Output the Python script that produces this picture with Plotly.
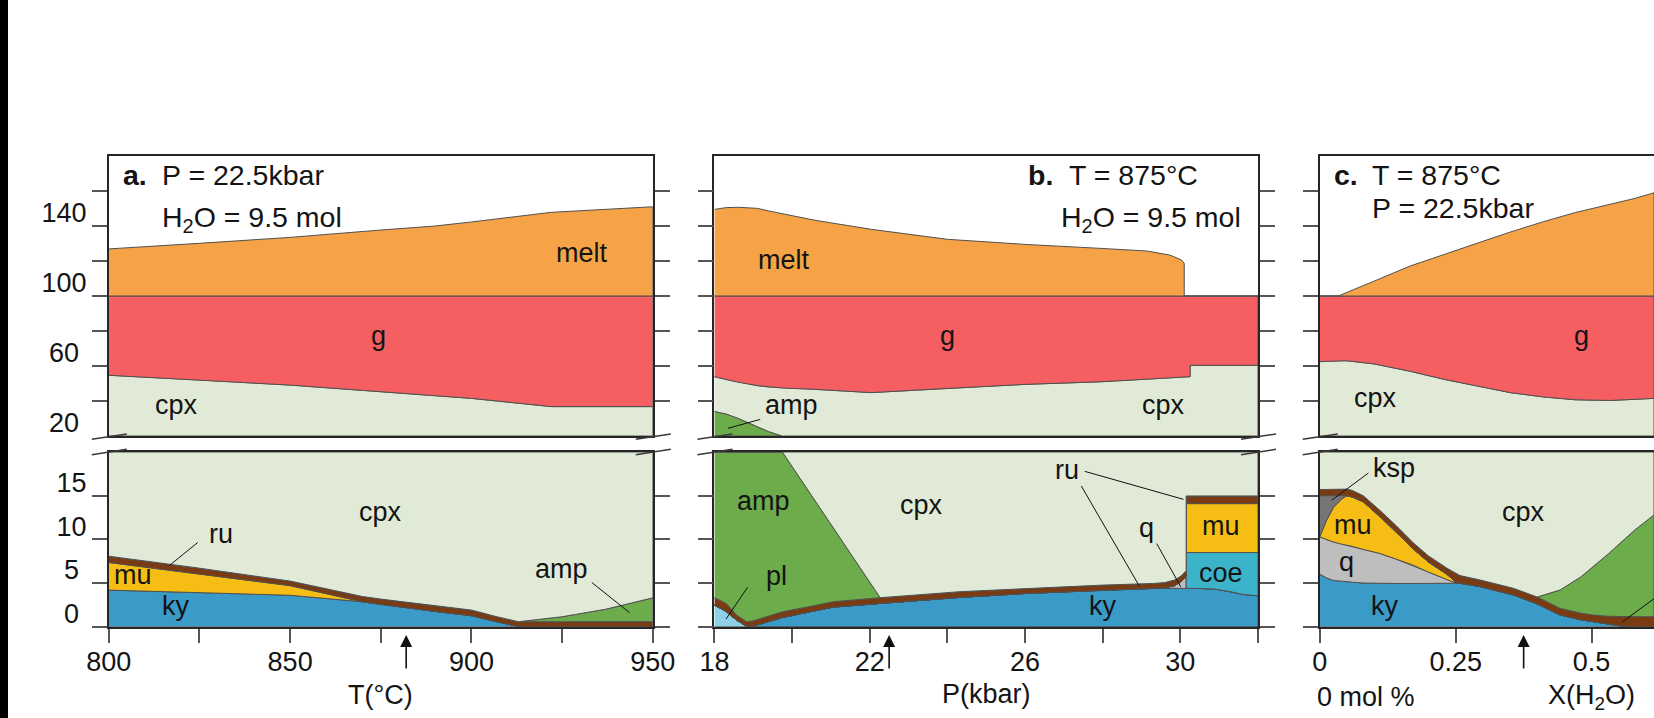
import plotly.graph_objects as go

W, H = 1654, 718
def px(x): return x / W
def py(y): return 1 - y / H

# ---------------------------------------------------------------- data
# a.  P = 22.5 kbar, H2O = 9.5 mol ; x = T(°C)
a_T_up    = [800, 825, 850, 875, 890, 900, 922, 950]
a_cpx_up  = [54.7, 52.0, 49.1, 45.3, 43.0, 41.5, 36.8, 36.8]
a_g_up    = [100, 100, 100, 100, 100, 100, 100, 100]
a_melt_up = [126.9, 130.1, 133.5, 137.7, 140.0, 142.3, 147.8, 151.0]

a_T_lo   = [800, 825, 850, 870, 875, 890, 900, 907, 913, 925, 937, 950]
a_ky_lo  = [4.19, 3.92, 3.6, 2.85, 2.55, 1.75, 1.26, 0.57, 0.0, 0.0, 0.0, 0.0]
a_mu_lo  = [7.35, 6.0, 4.7, 2.85, 2.55, 1.75, 1.26, 0.57, 0.0, 0.0, 0.0, 0.0]
a_ru_lo  = [8.07, 6.7, 5.22, 3.45, 3.16, 2.36, 1.9, 1.14, 0.57, 0.57, 0.57, 0.57]
a_amp_lo = [8.07, 6.7, 5.22, 3.45, 3.16, 2.36, 1.9, 1.14, 0.57, 1.14, 2.0, 3.3]

# b.  T = 875 °C, H2O = 9.5 mol ; x = P(kbar)
b_P_up    = [18, 18.3, 18.6, 19.1, 19.4, 19.75, 20.56, 22.04, 24.0, 26.0, 27.96, 29.14, 29.73, 30.03, 30.1, 30.1, 30.25, 30.25, 32]
b_amp_up  = [34.0, 32.6, 30.2, 25.2, 22.5, 20, 20, 20, 20, 20, 20, 20, 20, 20, 20, 20, 20, 20, 20]
b_cpx_up  = [53.9, 52.3, 50.8, 48.8, 48.0, 47.4, 46.7, 44.8, 47.2, 49.5, 51.0, 52.5, 53.2, 53.6, 53.7, 53.7, 53.9, 60.4, 60.4]
b_g_up    = [100, 100, 100, 100, 100, 100, 100, 100, 100, 100, 100, 100, 100, 100, 100, 100, 100, 100, 100]
b_melt_up = [149.5, 150.5, 150.7, 150.1, 148.6, 146.8, 143.4, 138.1, 132.4, 129.5, 127.2, 125.7, 123.4, 120.6, 118.7, 100, 100, 100, 100]

b_P_lo   = [18, 18.3, 18.57, 18.83, 19.0, 19.75, 20.5, 21.07, 22.27, 24.33, 26.0, 28.0, 29.3, 29.6, 29.85, 30.0, 30.15, 30.15, 30.5, 30.9, 31.3, 31.6, 32]
b_pl_lo  = [2.48, 1.75, 0.76, 0.05, 0, 0, 0, 0, 0, 0, 0, 0, 0, 0, 0, 0, 0, 0, 0, 0, 0, 0, 0]
b_ky_lo  = [2.48, 1.75, 0.76, 0.05, 0.08, 1.05, 1.75, 2.25, 2.67, 3.36, 3.8, 4.19, 4.38, 4.4, 4.4, 4.4, 4.4, 4.4, 4.38, 4.3, 4.0, 3.7, 3.54]
b_q_lo   = [2.48, 1.75, 0.76, 0.05, 0.08, 1.05, 1.75, 2.25, 2.67, 3.36, 3.8, 4.19, 4.38, 4.45, 4.7, 5.1, 5.75, 4.4, 4.38, 4.3, 4.0, 3.7, 3.54]
b_coe_lo = [2.48, 1.75, 0.76, 0.05, 0.08, 1.05, 1.75, 2.25, 2.67, 3.36, 3.8, 4.19, 4.38, 4.45, 4.7, 5.1, 5.75, 8.49, 8.49, 8.49, 8.49, 8.49, 8.49]
b_mu_lo  = [2.48, 1.75, 0.76, 0.05, 0.08, 1.05, 1.75, 2.25, 2.67, 3.36, 3.8, 4.19, 4.38, 4.45, 4.7, 5.1, 5.75, 14.09, 14.09, 14.09, 14.09, 14.09, 14.09]
b_ru_lo  = [3.32, 2.68, 1.34, 0.57, 0.66, 1.7, 2.35, 2.86, 3.32, 4.01, 4.38, 4.76, 4.95, 5.05, 5.35, 5.75, 6.4, 14.97, 14.97, 14.97, 14.97, 14.97, 14.97]
b_amp_lo = [20, 20, 20, 20, 20, 20, 15.04, 11.26, 3.32, 4.01, 4.38, 4.76, 4.95, 5.05, 5.35, 5.75, 6.4, 14.97, 14.97, 14.97, 14.97, 14.97, 14.97]

# c.  T = 875 °C, P = 22.5 kbar ; x = X(H2O)
c_X_up    = [0, 0.034, 0.05, 0.1, 0.166, 0.23, 0.289, 0.35, 0.4117, 0.47, 0.534, 0.58, 0.6147]
c_cpx_up  = [62.5, 63.0, 63.0, 61.2, 57.0, 52.3, 48.4, 44.8, 42.3, 40.7, 40.3, 40.9, 41.5]
c_g_up    = [100, 100, 100, 100, 100, 100, 100, 100, 100, 100, 100, 100, 100]
c_melt_up = [100, 100, 102.0, 108.5, 117.1, 124.0, 130.1, 136.5, 142.5, 147.7, 152.4, 155.8, 159.0]

c_X_lo   = [0, 0.012, 0.025, 0.04, 0.05, 0.06, 0.08, 0.111, 0.14, 0.172, 0.2, 0.234, 0.25, 0.258, 0.295, 0.32, 0.356, 0.4, 0.442, 0.48, 0.504, 0.53, 0.553, 0.58, 0.6147]
c_ky_lo  = [6.02, 5.6, 5.3, 5.18, 5.14, 5.1, 5.0, 4.95, 4.95, 4.95, 4.95, 4.95, 4.97, 4.98, 4.6, 4.2, 3.65, 2.6, 1.35, 0.8, 0.55, 0.3, 0.1, 0, 0]
c_q_lo   = [10.28, 10.0, 9.7, 9.45, 9.33, 9.2, 8.85, 8.38, 7.75, 7.04, 6.25, 5.4, 5.0, 4.98, 4.6, 4.2, 3.65, 2.6, 1.35, 0.8, 0.55, 0.3, 0.1, 0, 0]
c_mu_lo  = [10.28, 12.1, 13.63, 14.6, 15.0, 14.85, 14.3, 12.6, 10.9, 8.9, 7.4, 6.0, 5.1, 4.98, 4.6, 4.2, 3.65, 2.6, 1.35, 0.8, 0.55, 0.3, 0.1, 0, 0]
c_ksp_lo = [15.0, 15.02, 15.04, 15.06, 15.0, 14.85, 14.3, 12.6, 10.9, 8.9, 7.4, 6.0, 5.1, 4.98, 4.6, 4.2, 3.65, 2.6, 1.35, 0.8, 0.55, 0.3, 0.1, 0, 0]
c_ru_lo  = [15.7, 15.72, 15.74, 15.75, 15.75, 15.6, 15.0, 13.3, 11.6, 9.6, 8.1, 6.7, 6.1, 5.85, 5.35, 4.95, 4.4, 3.4, 2.1, 1.55, 1.33, 1.2, 1.14, 1.14, 1.14]
c_amp_lo = [15.7, 15.72, 15.74, 15.75, 15.75, 15.6, 15.0, 13.3, 11.6, 9.6, 8.1, 6.7, 6.1, 5.85, 5.35, 4.95, 4.4, 3.4, 4.2, 5.7, 6.9, 8.3, 9.6, 11.1, 12.8]

# axes / ticks
UP_RANGE = [20, 180]
LO_RANGE = [0, 20]
a_range = [800, 950]
b_range = [18, 32]
c_range = [0, 0.6147]
a_xticks = [800, 825, 850, 875, 900, 925, 950]
a_xtext  = ['800', '', '850', '', '900', '', '950']
b_xticks = [18, 20, 22, 24, 26, 28, 30, 32]
b_xtext  = ['18', '', '22', '', '26', '', '30', '']
c_xticks = [0, 0.25, 0.5]
c_xtext  = ['0', '0.25', '0.5']
up_ticks = [40, 60, 80, 100, 120, 140, 160]
up_labvals = [20, 60, 100, 140]
up_labtext = ['20\u00a0', '60\u00a0', '100', '140']
lo_ticks = [0, 5, 10, 15]
lo_labtext = ['0\u00a0', '5\u00a0', '10', '15']

# ---------------------------------------------------------------- style
C = dict(melt='#F6A247', g='#F65F62', cpx='#E1EAD6', ky='#3B9BC8', mu='#F6BE14',
         ru='#7B3B12', amp='#6DAC4A', q='#BEBEBE', ksp='#767676', coe='#3BB4CA',
         pl='#8ED0E6')
EDGE = '#505050'
FONT = 'Liberation Sans, Arial, Helvetica, sans-serif'
TXT = '#141414'
LC = '#262626'
TC = '#555555'
FS = 27
FS_HEAD = 28.5

fig = go.Figure()

def region(x, lo, hi, color, xa, ya):
    xs = list(x) + list(x)[::-1]
    ys = list(lo) + list(hi)[::-1]
    fig.add_trace(go.Scatter(x=xs, y=ys, xaxis=xa, yaxis=ya, mode='lines',
                             fill='toself', fillcolor=color,
                             line=dict(color=EDGE, width=1),
                             hoverinfo='skip', showlegend=False))

def const(v, n):
    return [v] * n

# panel a
n = len(a_T_up)
region(a_T_up, const(UP_RANGE[0], n), a_cpx_up, C['cpx'], 'x2', 'y2')
region(a_T_up, a_cpx_up, a_g_up, C['g'], 'x2', 'y2')
region(a_T_up, a_g_up, a_melt_up, C['melt'], 'x2', 'y2')
n = len(a_T_lo)
region(a_T_lo, const(LO_RANGE[0], n), a_ky_lo, C['ky'], 'x', 'y')
region(a_T_lo, a_ky_lo, a_mu_lo, C['mu'], 'x', 'y')
region(a_T_lo, a_mu_lo, a_ru_lo, C['ru'], 'x', 'y')
region(a_T_lo, a_ru_lo, a_amp_lo, C['amp'], 'x', 'y')
region(a_T_lo, a_amp_lo, const(LO_RANGE[1], n), C['cpx'], 'x', 'y')

# panel b
n = len(b_P_up)
region(b_P_up, const(UP_RANGE[0], n), b_amp_up, C['amp'], 'x4', 'y4')
region(b_P_up, b_amp_up, b_cpx_up, C['cpx'], 'x4', 'y4')
region(b_P_up, b_cpx_up, b_g_up, C['g'], 'x4', 'y4')
region(b_P_up, b_g_up, b_melt_up, C['melt'], 'x4', 'y4')
n = len(b_P_lo)
region(b_P_lo, const(LO_RANGE[0], n), b_pl_lo, C['pl'], 'x3', 'y3')
region(b_P_lo, b_pl_lo, b_ky_lo, C['ky'], 'x3', 'y3')
region(b_P_lo, b_ky_lo, b_q_lo, C['q'], 'x3', 'y3')
region(b_P_lo, b_q_lo, b_coe_lo, C['coe'], 'x3', 'y3')
region(b_P_lo, b_coe_lo, b_mu_lo, C['mu'], 'x3', 'y3')
region(b_P_lo, b_mu_lo, b_ru_lo, C['ru'], 'x3', 'y3')
region(b_P_lo, b_ru_lo, b_amp_lo, C['amp'], 'x3', 'y3')
region(b_P_lo, b_amp_lo, const(LO_RANGE[1], n), C['cpx'], 'x3', 'y3')

# panel c
n = len(c_X_up)
region(c_X_up, const(UP_RANGE[0], n), c_cpx_up, C['cpx'], 'x6', 'y6')
region(c_X_up, c_cpx_up, c_g_up, C['g'], 'x6', 'y6')
region(c_X_up, c_g_up, c_melt_up, C['melt'], 'x6', 'y6')
n = len(c_X_lo)
region(c_X_lo, const(LO_RANGE[0], n), c_ky_lo, C['ky'], 'x5', 'y5')
region(c_X_lo, c_ky_lo, c_q_lo, C['q'], 'x5', 'y5')
region(c_X_lo, c_q_lo, c_mu_lo, C['mu'], 'x5', 'y5')
region(c_X_lo, c_mu_lo, c_ksp_lo, C['ksp'], 'x5', 'y5')
region(c_X_lo, c_ksp_lo, c_ru_lo, C['ru'], 'x5', 'y5')
region(c_X_lo, c_ru_lo, c_amp_lo, C['amp'], 'x5', 'y5')
region(c_X_lo, c_amp_lo, const(LO_RANGE[1], n), C['cpx'], 'x5', 'y5')

# ---------------------------------------------------------------- axes
AX_A = [px(108.8), px(652.8)]
AX_B = [px(714.4), px(1258.0)]
AX_C = [px(1319.7), 1.0]
DOM_UP = [py(436), py(156)]
DOM_LO = [py(626.7), py(452)]
tickfont = dict(family=FONT, size=FS, color=TXT)

def x_lower(dom, rng, tv, tt, anchor):
    return dict(domain=dom, range=rng, anchor=anchor, showline=True, linecolor=LC,
                linewidth=1.6, mirror=True, ticks='outside', ticklen=14, tickwidth=1.5,
                tickcolor=TC, tickmode='array', tickvals=tv, ticktext=tt,
                tickfont=tickfont, showgrid=False, zeroline=False, layer='above traces',
                ticklabelstandoff=-4, automargin=False)

def x_upper(dom, rng, anchor):
    return dict(domain=dom, range=rng, anchor=anchor, showline=True, linecolor=LC,
                linewidth=1.6, mirror=True, ticks='', showticklabels=False,
                showgrid=False, zeroline=False, layer='above traces', automargin=False)

def y_axis(dom, rng, anchor, minor_vals, lab_vals, lab_text, labels, mirror):
    return dict(domain=dom, range=rng, anchor=anchor, showline=True, linecolor=LC,
                linewidth=1.6, mirror=mirror, ticks='', tickmode='array',
                tickvals=lab_vals, ticktext=lab_text, showticklabels=labels,
                ticklabelposition='outside', ticklabelshift=-13, tickfont=tickfont,
                ticklabelstandoff=15, automargin=False,
                minor=dict(tickmode='array', tickvals=minor_vals, ticks='outside',
                           ticklen=15, tickwidth=1.5, tickcolor=TC, showgrid=False),
                showgrid=False, zeroline=False, layer='above traces')

layout_axes = dict(
    xaxis=x_lower(AX_A, a_range, a_xticks, a_xtext, 'y'),
    xaxis2=x_upper(AX_A, a_range, 'y2'),
    xaxis3=x_lower(AX_B, b_range, b_xticks, b_xtext, 'y3'),
    xaxis4=x_upper(AX_B, b_range, 'y4'),
    xaxis5=x_lower(AX_C, c_range, c_xticks, c_xtext, 'y5'),
    xaxis6=x_upper(AX_C, c_range, 'y6'),
    yaxis=y_axis(DOM_LO, LO_RANGE, 'x', lo_ticks, lo_ticks, lo_labtext, True, 'allticks'),
    yaxis2=y_axis(DOM_UP, UP_RANGE, 'x2', up_ticks, up_labvals, up_labtext, True, 'allticks'),
    yaxis3=y_axis(DOM_LO, LO_RANGE, 'x3', lo_ticks, lo_ticks, lo_labtext, False, 'allticks'),
    yaxis4=y_axis(DOM_UP, UP_RANGE, 'x4', up_ticks, up_labvals, up_labtext, False, 'allticks'),
    yaxis5=y_axis(DOM_LO, LO_RANGE, 'x5', lo_ticks, lo_ticks, lo_labtext, False, False),
    yaxis6=y_axis(DOM_UP, UP_RANGE, 'x6', up_ticks, up_labvals, up_labtext, False, False),
)

# ---------------------------------------------------------------- annotations
ann = []
def txt(text, x, y, xref, yref, xanchor='center', yanchor='middle', size=FS):
    ann.append(dict(text=text, x=x, y=y, xref=xref, yref=yref, xanchor=xanchor,
                    yanchor=yanchor, showarrow=False,
                    font=dict(family=FONT, size=size, color=TXT)))

# panel headers
txt('<b>a.</b>', px(120.6), py(175), 'paper', 'paper', 'left', size=FS_HEAD)
txt('P = 22.5kbar', px(159.6), py(175), 'paper', 'paper', 'left', size=FS_HEAD)
txt('H<sub>2</sub>O = 9.5 mol', px(159.6), py(219), 'paper', 'paper', 'left', size=FS_HEAD)
txt('<b>b.</b>', px(1026.3), py(175), 'paper', 'paper', 'left', size=FS_HEAD)
txt('T = 875°C', px(1066.5), py(175), 'paper', 'paper', 'left', size=FS_HEAD)
txt('H<sub>2</sub>O = 9.5 mol', px(1243.3), py(219), 'paper', 'paper', 'right', size=FS_HEAD)
txt('<b>c.</b>', px(1331.7), py(175), 'paper', 'paper', 'left', size=FS_HEAD)
txt('T = 875°C', px(1370), py(175), 'paper', 'paper', 'left', size=FS_HEAD)
txt('P = 22.5kbar', px(1370), py(208.3), 'paper', 'paper', 'left', size=FS_HEAD)

# phase labels
labels = [
    ('melt', 930.5, 124.4, 'x2', 'y2'), ('g', 874.4, 76.9, 'x2', 'y2'), ('cpx', 818.7, 37.5, 'x2', 'y2'),
    ('cpx', 874.9, 13.1, 'x', 'y'), ('ru', 831, 10.57, 'x', 'y'), ('mu', 806.7, 5.97, 'x', 'y'),
    ('ky', 818.4, 2.37, 'x', 'y'), ('amp', 924.8, 6.6, 'x', 'y'),
    ('melt', 19.8, 120.6, 'x4', 'y4'), ('g', 24.0, 76.9, 'x4', 'y4'), ('amp', 19.98, 37.5, 'x4', 'y4'),
    ('cpx', 29.57, 37.5, 'x4', 'y4'),
    ('amp', 19.27, 14.4, 'x3', 'y3'), ('cpx', 23.34, 13.9, 'x3', 'y3'), ('pl', 19.59, 5.77, 'x3', 'y3'),
    ('ru', 27.09, 17.97, 'x3', 'y3'), ('q', 29.14, 11.3, 'x3', 'y3'), ('mu', 31.05, 11.57, 'x3', 'y3'),
    ('coe', 31.04, 6.17, 'x3', 'y3'), ('ky', 28.0, 2.37, 'x3', 'y3'),
    ('g', 0.4816, 76.9, 'x6', 'y6'), ('cpx', 0.1033, 41.7, 'x6', 'y6'),
    ('ksp', 0.137, 18.17, 'x5', 'y5'), ('mu', 0.0604, 11.69, 'x5', 'y5'), ('q', 0.0487, 7.45, 'x5', 'y5'),
    ('ky', 0.1193, 2.36, 'x5', 'y5'), ('cpx', 0.3755, 13.09, 'x5', 'y5'),
]
for t, x, y, xr, yr in labels:
    txt(t, x, y, xr, yr)

# axis titles
txt('T(°C)', 875, py(694.5), 'x', 'paper')
txt('P(kbar)', 25, py(694), 'x3', 'paper')
txt('X(H<sub>2</sub>O)', 0.5, py(697), 'x5', 'paper')
txt('0 mol %', px(1315), py(696.5), 'paper', 'paper', 'left')

# arrows marking the conditions
for x, xr in [(882, 'x'), (22.5, 'x3'), (0.375, 'x5')]:
    ann.append(dict(text='', x=x, y=py(635), xref=xr, yref='paper', ax=0, ay=35,
                    showarrow=True, arrowhead=2, arrowsize=1.5, arrowwidth=1.6,
                    arrowcolor='#111111', standoff=0))

# ---------------------------------------------------------------- shapes
shapes = []
# left black strip of the scan
shapes.append(dict(type='rect', xref='paper', yref='paper', x0=0, x1=px(8), y0=0, y1=1,
                   fillcolor='black', line=dict(width=0), layer='above'))
# axis-break slashes
for xe in [108.8, 652.8, 714.4, 1258.0, 1319.7]:
    for y0, y1 in [(439.3, 434.0), (454.7, 449.3)]:
        shapes.append(dict(type='line', xref='paper', yref='paper',
                           x0=px(xe - 17), x1=px(xe + 18), y0=py(y0), y1=py(y1),
                           line=dict(color='#3a3a3a', width=1.5), layer='above'))
# leader lines
leaders = [
    ('x', 'y', 824.5, 9.63, 816.6, 6.97), ('x', 'y', 933.2, 5.06, 943.6, 1.6),
    ('x4', 'y4', 18.35, 24.4, 19.18, 29.5),
    ('x3', 'y3', 18.855, 4.51, 18.30, 0.88),
    ('x3', 'y3', 27.54, 17.78, 30.08, 14.58), ('x3', 'y3', 27.45, 16.1, 28.94, 4.68),
    ('x3', 'y3', 29.39, 9.52, 30.01, 4.57),
    ('x5', 'y5', 0.0895, 17.59, 0.022, 14.47), ('x5', 'y5', 0.557, 0.57, 0.6147, 3.2),
]
for xr, yr, x0, y0, x1, y1 in leaders:
    shapes.append(dict(type='line', xref=xr, yref=yr, x0=x0, y0=y0, x1=x1, y1=y1,
                       line=dict(color='#111111', width=1), layer='above'))

fig.update_layout(
    width=W, height=H, margin=dict(l=0, r=0, t=0, b=0, pad=0, autoexpand=False),
    paper_bgcolor='white', plot_bgcolor='white',
    font=dict(family=FONT, size=FS, color=TXT),
    showlegend=False, annotations=ann, shapes=shapes, **layout_axes)

fig.write_html('out.html')
